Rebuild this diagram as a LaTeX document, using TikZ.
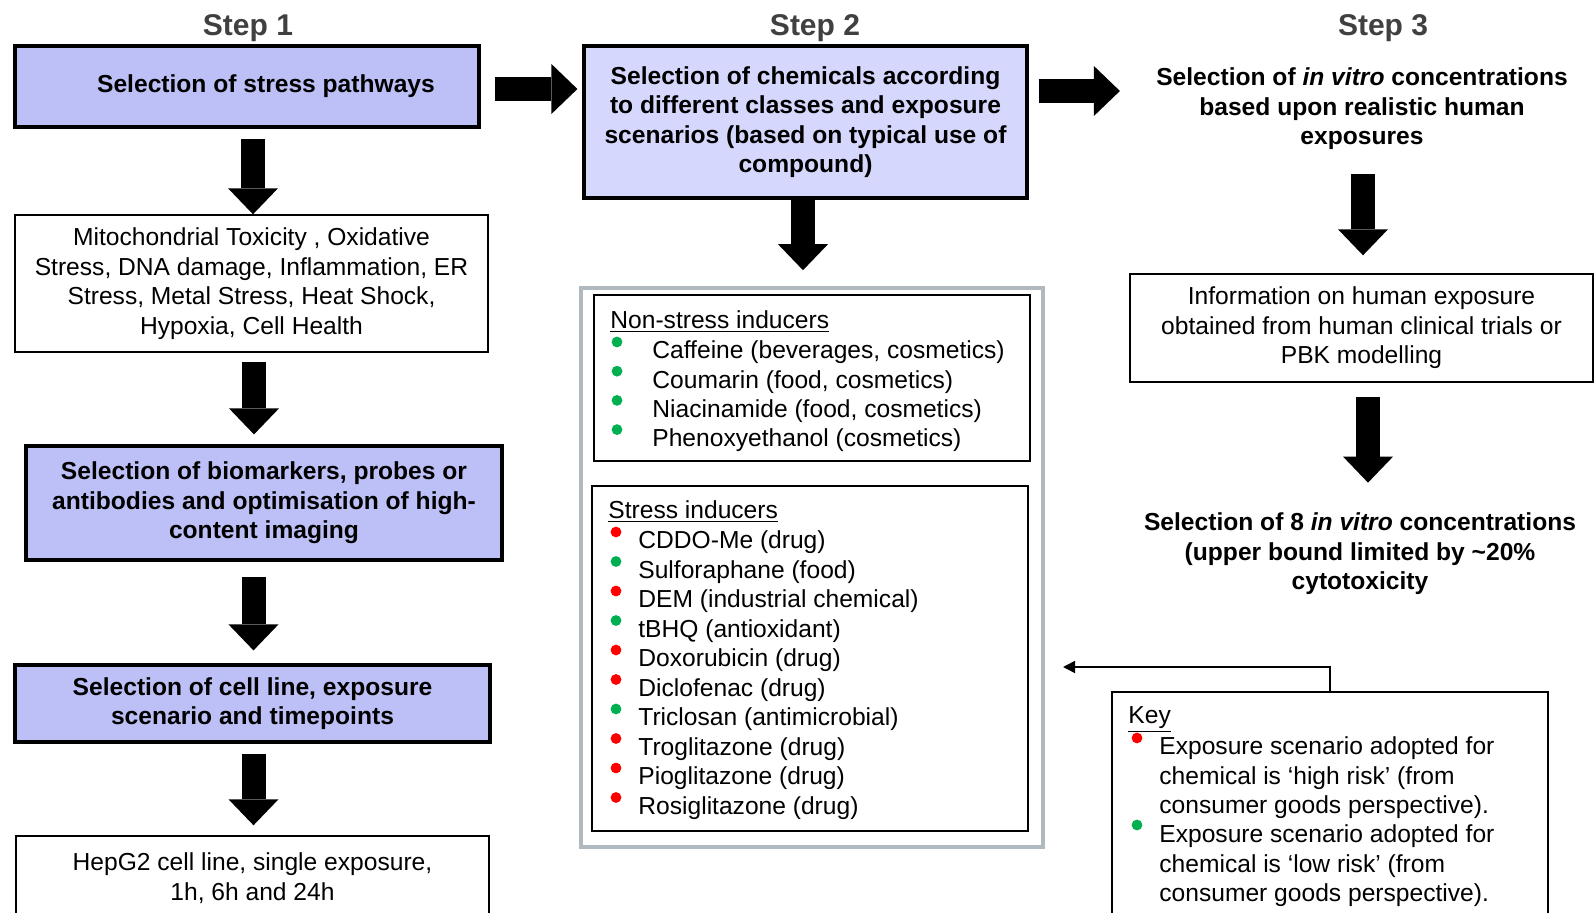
\documentclass[tikz,border=0pt]{standalone}
\usepackage{fontspec}
\setmainfont{Liberation Sans}
\usetikzlibrary{arrows.meta}
\definecolor{boxblue}{RGB}{189,192,246}
\definecolor{boxpale}{RGB}{214,215,252}
\definecolor{steptxt}{RGB}{64,64,64}
\definecolor{framegray}{RGB}{176,184,192}
\definecolor{dotred}{RGB}{255,0,0}
\definecolor{dotgreen}{RGB}{0,176,80}
\newcommand{\bodyfont}{\fontsize{12.3pt}{14.75pt}\selectfont}
\tikzset{>=latex}
\tikzset{
  bluebox/.style={draw, line width=1.6pt, fill=boxblue, align=center, font=\bodyfont\bfseries, inner sep=2pt},
  plainbox/.style={draw, line width=0.7pt, align=center, font=\bodyfont, inner sep=2pt},
  listbox/.style={draw, line width=0.9pt},
  listitem/.style={anchor=west, font=\bodyfont, inner sep=0pt},
  boldtext/.style={align=center, font=\bodyfont\bfseries, inner sep=0pt},
  steplabel/.style={font=\fontsize{15pt}{18pt}\selectfont\bfseries, text=steptxt},
  fat/.style={line width=12pt, -{Triangle[width=25pt,length=13pt,line width=0pt]}},
}

\begin{document}
\begin{tikzpicture}[x=0.5pt,y=-0.5pt]
  \useasboundingbox (0,0) rectangle (1594,913);
  \clip (0,0) rectangle (1594,913);
  % step titles
  \node[steplabel] (st1) at (248,28) {Step 1};
  \node[steplabel] (st2) at (815,28) {Step 2};
  \node[steplabel] (st3) at (1383,28) {Step 3};

  % step 1
  \node[bluebox, minimum width=232pt, minimum height=40.5pt] (sel1) at (247,86.5)
    {\hspace*{19pt}\raisebox{-1.5pt}{Selection of stress pathways}};
  \node[plainbox, minimum width=236.5pt, minimum height=68.5pt] (mito) at (251.5,283.5)
    {Mitochondrial Toxicity , Oxidative\\Stress, DNA damage, Inflammation, ER\\Stress, Metal Stress, Heat Shock,\\Hypoxia, Cell Health};
  \node[bluebox, minimum width=238pt, minimum height=57pt] (bio) at (264,503)
    {Selection of biomarkers, probes or\\antibodies and optimisation of high-\\content imaging};
  \node[bluebox, minimum width=237.5pt, minimum height=38.5pt] (cell) at (252.5,703.5)
    {Selection of cell line, exposure\\scenario and timepoints};
  \node[plainbox, minimum width=236.5pt, minimum height=42pt] (hep) at (252.5,878)
    {HepG2 cell line, single exposure,\\1h, 6h and 24h};

  \draw[fat, shorten <=5pt] (sel1.south -| 253,0) -- (mito.north -| 253,0);
  \draw[fat, shorten <=4.5pt, shorten >=5pt] (mito.south -| 254,0) -- (bio.north -| 254,0);
  \draw[fat, shorten <=7.5pt, shorten >=6.5pt] (bio.south -| 253.5,0) -- (cell.north -| 253.5,0);
  \draw[fat, shorten <=5pt, shorten >=5pt] (cell.south -| 253.5,0) -- (hep.north -| 253.5,0);

  % step 2
  \node[bluebox, fill=boxpale, minimum width=221.5pt, minimum height=76pt] (chem) at (805.5,122)
    {Selection of chemicals according\\to different classes and exposure\\scenarios (based on typical use of\\compound)};
  \node[draw=framegray, line width=1.8pt, minimum width=231pt, minimum height=279.5pt] (frame) at (812,567.5) {};
  \node[listbox, minimum width=218pt, minimum height=83pt] (nsbox) at (812,378) {};
  \node[listbox, minimum width=218pt, minimum height=172.5pt] (sbox) at (810,658.5) {};

  \node[listitem] (nshead) at (610,322) {\underline{Non-stress inducers}};
  \foreach \txt [count=\i from 0] in {{Caffeine (beverages, cosmetics)}, {Coumarin (food, cosmetics)},
      {Niacinamide (food, cosmetics)}, {Phenoxyethanol (cosmetics)}} {
    \fill[dotgreen] (617,{342+29.2*\i}) circle[radius=2.7pt];
    \node[listitem] (ns\i) at (652,{352.5+29.2*\i}) {\txt};
  }
  \node[listitem] (shead) at (608,512) {\underline{Stress inducers}};
  \foreach \col/\txt [count=\i from 0] in {dotred/{CDDO-Me (drug)}, dotgreen/{Sulforaphane (food)},
      dotred/{DEM (industrial chemical)}, dotgreen/{tBHQ (antioxidant)}, dotred/{Doxorubicin (drug)},
      dotred/{Diclofenac (drug)}, dotgreen/{Triclosan (antimicrobial)}, dotred/{Troglitazone (drug)},
      dotred/{Pioglitazone (drug)}, dotred/{Rosiglitazone (drug)}} {
    \fill[\col] (616,{532+29.5*\i}) circle[radius=2.7pt];
    \node[listitem] (si\i) at (638,{542.5+29.5*\i}) {\txt};
  }

  \draw[fat, shorten <=7pt, shorten >=2.5pt] (sel1.east |- 0,89) -- (chem.west |- 0,89);
  \draw[fat, shorten >=8pt] (chem.south -| 803,0) -- (frame.north -| 803,0);

  % step 3
  \node[boldtext] (conc) at (1362,109)
    {Selection of \textit{in vitro} concentrations\\based upon realistic human\\exposures};
  \node[plainbox, minimum width=231.5pt, minimum height=54pt] (info) at (1361.5,328)
    {Information on human exposure\\obtained from human clinical trials or\\PBK modelling};
  \node[boldtext] (eight) at (1360,554)
    {Selection of 8 \textit{in vitro} concentrations\\(upper bound limited by \textasciitilde20\%\\cytotoxicity};

  \draw[fat, shorten <=5pt, shorten >=18pt] (chem.east |- 0,91) -- (conc.west |- 0,91);
  \draw[fat, shorten <=12pt, shorten >=9pt] (conc.south -| 1363,0) -- (info.north -| 1363,0);
  \draw[fat, shorten <=7pt, shorten >=15pt] (info.south -| 1368,0) -- (eight.north -| 1368,0);

  % key
  \node[listbox, minimum width=218pt, minimum height=114pt] (key) at (1330,806) {};
  \node[listitem] (keyhead) at (1128,720) {\underline{Key}};
  \fill[dotred] (1137,738) circle[radius=2.7pt];
  \node[listitem, align=left] (keyhigh) at (1159,778)
    {Exposure scenario adopted for\\chemical is ‘high risk’ (from\\consumer goods perspective).};
  \fill[dotgreen] (1137,825) circle[radius=2.7pt];
  \node[listitem, align=left] (keylow) at (1159,866)
    {Exposure scenario adopted for\\chemical is ‘low risk’ (from\\consumer goods perspective).};
  \coordinate (keytip) at (1063,667);
  \draw[line width=0.8pt, -{Triangle[width=6pt,length=6pt]}] (key.north) |- (keytip);
\end{tikzpicture}
\end{document}
